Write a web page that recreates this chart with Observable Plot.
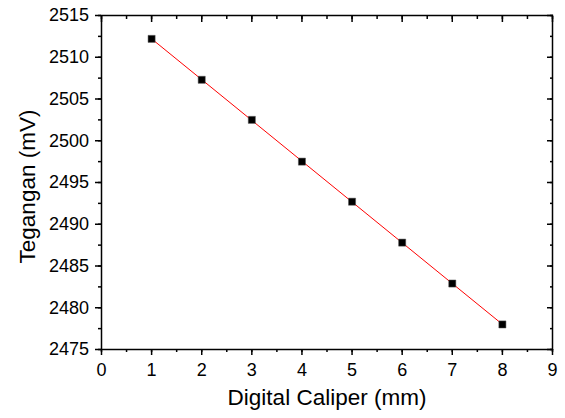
<!DOCTYPE html>
<html>
<head>
<meta charset="utf-8">
<script src="https://cdn.jsdelivr.net/npm/d3@7"></script>
<script src="https://cdn.jsdelivr.net/npm/@observablehq/plot@0.6"></script>
<style>
  html, body { margin: 0; padding: 0; background: #fff; }
</style>
</head>
<body>
<div id="chart"></div>
<script>
const caliper = [1, 2, 3, 4, 5, 6, 7, 8];
const tegangan = [2512.2, 2507.3, 2502.5, 2497.5, 2492.7, 2487.8, 2482.9, 2478.0];
const xTicks = [0, 1, 2, 3, 4, 5, 6, 7, 8, 9];
const xMinor = [0, 0.5, 1, 1.5, 2, 2.5, 3, 3.5, 4, 4.5, 5, 5.5, 6, 6.5, 7, 7.5, 8, 8.5, 9];
const yTicks = [2475, 2480, 2485, 2490, 2495, 2500, 2505, 2510, 2515];
const yMinor = [2475, 2477.5, 2480, 2482.5, 2485, 2487.5, 2490, 2492.5, 2495, 2497.5, 2500, 2502.5, 2505, 2507.5, 2510, 2512.5, 2515];
const xLabel = "Digital Caliper (mm)";
const yLabel = "Tegangan (mV)";

const data = caliper.map((x, i) => ({x, y: tegangan[i]}));

const chart = Plot.plot({
  width: 565,
  height: 418,
  marginLeft: 101,
  marginRight: 13,
  marginTop: 15,
  marginBottom: 69,
  style: {fontFamily: "'Liberation Sans', Arial, sans-serif", fontSize: "18px", color: "#000", background: "#fff"},
  x: {domain: [0, 9]},
  y: {domain: [2475, 2515]},
  marks: [
    Plot.axisX({ticks: xMinor, tickSize: 3, text: null, label: null, strokeWidth: 1.5}),
    Plot.axisX({ticks: xTicks, tickSize: 6, tickPadding: 8, label: null, strokeWidth: 1.5, fontSize: 18, tickFormat: d => String(d)}),
    Plot.axisX({anchor: "top", ticks: xMinor, tickSize: -3, text: null, label: null, strokeWidth: 1.5}),
    Plot.axisX({anchor: "top", ticks: xTicks, tickSize: -6, text: null, label: null, strokeWidth: 1.5}),
    Plot.axisY({ticks: yMinor, tickSize: 3, text: null, label: null, strokeWidth: 1.5}),
    Plot.axisY({ticks: yTicks, tickSize: 6, tickPadding: 6.5, label: null, strokeWidth: 1.5, fontSize: 18, tickFormat: d => String(d)}),
    Plot.axisY({anchor: "right", ticks: yMinor, tickSize: -3, text: null, label: null, strokeWidth: 1.5}),
    Plot.axisY({anchor: "right", ticks: yTicks, tickSize: -6, text: null, label: null, strokeWidth: 1.5}),
    Plot.frame({stroke: "#000", strokeWidth: 1.5}),
    Plot.linearRegressionY(data, {x: "x", y: "y", stroke: "#ff0000", strokeWidth: 1, ci: 0}),
    Plot.dot(data, {x: "x", y: "y", symbol: "square", r: 4, fill: "#000", stroke: "#555", strokeWidth: 0.5}),
    Plot.text([xLabel], {frameAnchor: "bottom", dy: 55, fontSize: 22.5, text: d => d, fill: "#000"}),
    Plot.text([yLabel], {frameAnchor: "left", textAnchor: "middle", dx: -74, dy: 4, rotate: -90, fontSize: 22.5, text: d => d, fill: "#000"})
  ]
});
document.getElementById("chart").appendChild(chart);
</script>
</body>
</html>
